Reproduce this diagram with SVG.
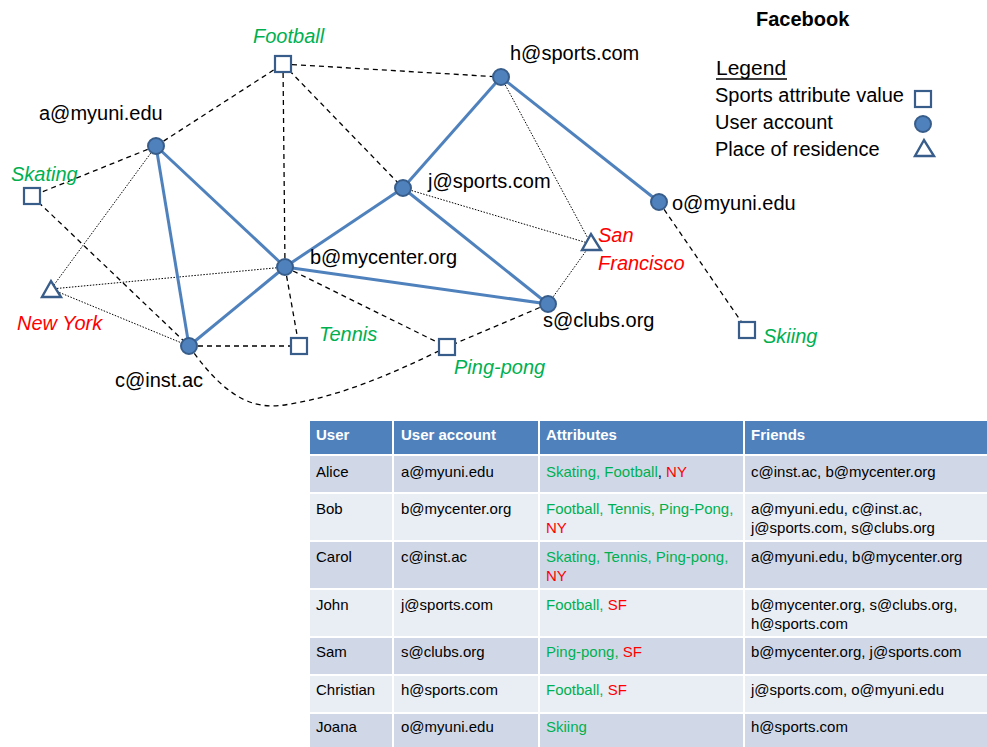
<svg xmlns="http://www.w3.org/2000/svg" width="987" height="747" viewBox="0 0 987 747">
<style>
text{font-family:"Liberation Sans",Arial,sans-serif;}
.lbl{font-size:20px;fill:#000;}
.attr{font-size:20px;font-style:italic;fill:#00B050;}
.place{font-size:20px;font-style:italic;fill:#FF0000;}
.user{fill:#4F81BD;stroke:#385D8A;stroke-width:2;}
.sq{fill:#fff;stroke:#385D8A;stroke-width:2.2;}
.tri{fill:#fff;stroke:#385D8A;stroke-width:2.4;stroke-linejoin:miter;}
.friend{stroke:#4F81BD;stroke-width:3;fill:none;}
.dash{stroke:#000;stroke-width:1.3;stroke-dasharray:5,4;fill:none;}
.dot{stroke:#000;stroke-width:1;stroke-dasharray:1.5,1.5;fill:none;}
.th{font-size:15px;font-weight:bold;fill:#fff;}
.td{font-size:15px;fill:#000;}
.g{fill:#00B050;}
.r{fill:#FF0000;}
.hd{fill:#4F81BD;stroke:#fff;stroke-width:2;}
.ro{fill:#D0D8E8;stroke:#fff;stroke-width:2;}
.re{fill:#E9EDF4;stroke:#fff;stroke-width:2;}
</style>

<g id="connectors">
  <!-- dotted: place of residence -->
  <line class="dot" x1="156" y1="146" x2="51" y2="289"/>
  <line class="dot" x1="51" y1="289" x2="285" y2="267"/>
  <line class="dot" x1="51" y1="289" x2="189" y2="346"/>
  <line class="dot" x1="403" y1="188" x2="591" y2="244"/>
  <line class="dot" x1="501" y1="77" x2="591" y2="244"/>
  <line class="dot" x1="548" y1="304" x2="591" y2="244"/>
  <!-- dashed: sports attributes -->
  <line class="dash" x1="156" y1="146" x2="283" y2="64"/>
  <line class="dash" x1="156" y1="146" x2="32" y2="196"/>
  <line class="dash" x1="283" y1="64" x2="501" y2="77"/>
  <line class="dash" x1="283" y1="64" x2="285" y2="267"/>
  <line class="dash" x1="283" y1="64" x2="403" y2="188"/>
  <line class="dash" x1="32" y1="196" x2="189" y2="346"/>
  <line class="dash" x1="285" y1="267" x2="299" y2="346"/>
  <line class="dash" x1="189" y1="346" x2="299" y2="346"/>
  <line class="dash" x1="285" y1="267" x2="447" y2="347"/>
  <line class="dash" x1="548" y1="304" x2="447" y2="347"/>
  <path class="dash" d="M189,346 C230,405 260,410 290,404 C340,396 390,375 447,347"/>
  <line class="dash" x1="659" y1="202" x2="747" y2="330"/>
  <!-- solid: friendships -->
  <line class="friend" x1="156" y1="146" x2="285" y2="267"/>
  <line class="friend" x1="156" y1="146" x2="189" y2="346"/>
  <line class="friend" x1="285" y1="267" x2="189" y2="346"/>
  <line class="friend" x1="285" y1="267" x2="403" y2="188"/>
  <line class="friend" x1="285" y1="267" x2="548" y2="304"/>
  <line class="friend" x1="403" y1="188" x2="501" y2="77"/>
  <line class="friend" x1="403" y1="188" x2="548" y2="304"/>
  <line class="friend" x1="501" y1="77" x2="659" y2="202"/>
</g>

<g id="football"><rect class="sq" x="275" y="56" width="16" height="16"/><text class="attr" x="253" y="43">Football</text></g>
<g id="skating"><rect class="sq" x="24" y="188" width="16" height="16"/><text class="attr" x="11" y="181">Skating</text></g>
<g id="tennis"><rect class="sq" x="291" y="338" width="16" height="16"/><text class="attr" x="319" y="341">Tennis</text></g>
<g id="pingpong"><rect class="sq" x="439" y="339" width="16" height="16"/><text class="attr" x="454" y="374">Ping-pong</text></g>
<g id="skiing"><rect class="sq" x="739" y="322" width="16" height="16"/><text class="attr" x="763" y="343">Skiing</text></g>

<g id="newyork"><polygon class="tri" points="51,281 42,297 61,297"/><text class="place" x="17" y="330">New York</text></g>
<g id="sanfrancisco"><polygon class="tri" points="591,234 582,250 601,250"/><text class="place" x="598" y="242">San</text><text class="place" x="598" y="270">Francisco</text></g>

<g id="a"><circle class="user" cx="156" cy="146" r="8"/><text class="lbl" x="39" y="120">a@myuni.edu</text></g>
<g id="h"><circle class="user" cx="501" cy="77" r="8"/><text class="lbl" x="510" y="60">h@sports.com</text></g>
<g id="j"><circle class="user" cx="403" cy="188" r="8"/><text class="lbl" x="428" y="188">j@sports.com</text></g>
<g id="b"><circle class="user" cx="285" cy="267" r="8"/><text class="lbl" x="310" y="264">b@mycenter.org</text></g>
<g id="c"><circle class="user" cx="189" cy="346" r="8"/><text class="lbl" x="115" y="387">c@inst.ac</text></g>
<g id="s"><circle class="user" cx="548" cy="304" r="8"/><text class="lbl" x="543" y="327">s@clubs.org</text></g>
<g id="o"><circle class="user" cx="659" cy="202" r="8"/><text class="lbl" x="672" y="210">o@myuni.edu</text></g>

<g id="title"><text x="756" y="26" style="font-size:20px;font-weight:bold;fill:#000">Facebook</text></g>

<g id="legend">
  <text x="716" y="75" style="font-size:21px;fill:#000">Legend</text>
  <line x1="716" y1="79" x2="787" y2="79" stroke="#000" stroke-width="1.3"/>
  <text class="lbl" x="715" y="102">Sports attribute value</text>
  <rect class="sq" x="915" y="91" width="16" height="16"/>
  <text class="lbl" x="715" y="129">User account</text>
  <circle class="user" cx="923" cy="124" r="8"/>
  <text class="lbl" x="715" y="156">Place of residence</text>
  <polygon class="tri" points="924,140 915,156 934,156"/>
</g>

<g id="table">
  <rect class="hd" x="309" y="420" width="84" height="35"/>
  <rect class="hd" x="393" y="420" width="146" height="35"/>
  <rect class="hd" x="539" y="420" width="205" height="35"/>
  <rect class="hd" x="744" y="420" width="250" height="35"/>
  <text class="th" x="316" y="440">User</text>
  <text class="th" x="401" y="440">User account</text>
  <text class="th" x="546" y="440">Attributes</text>
  <text class="th" x="751" y="440">Friends</text>

  <rect class="ro" x="309" y="455" width="84" height="38"/><rect class="ro" x="393" y="455" width="146" height="38"/><rect class="ro" x="539" y="455" width="205" height="38"/><rect class="ro" x="744" y="455" width="250" height="38"/>
  <rect class="re" x="309" y="493" width="84" height="48"/><rect class="re" x="393" y="493" width="146" height="48"/><rect class="re" x="539" y="493" width="205" height="48"/><rect class="re" x="744" y="493" width="250" height="48"/>
  <rect class="ro" x="309" y="541" width="84" height="48"/><rect class="ro" x="393" y="541" width="146" height="48"/><rect class="ro" x="539" y="541" width="205" height="48"/><rect class="ro" x="744" y="541" width="250" height="48"/>
  <rect class="re" x="309" y="589" width="84" height="48"/><rect class="re" x="393" y="589" width="146" height="48"/><rect class="re" x="539" y="589" width="205" height="48"/><rect class="re" x="744" y="589" width="250" height="48"/>
  <rect class="ro" x="309" y="637" width="84" height="38"/><rect class="ro" x="393" y="637" width="146" height="38"/><rect class="ro" x="539" y="637" width="205" height="38"/><rect class="ro" x="744" y="637" width="250" height="38"/>
  <rect class="re" x="309" y="675" width="84" height="38"/><rect class="re" x="393" y="675" width="146" height="38"/><rect class="re" x="539" y="675" width="205" height="38"/><rect class="re" x="744" y="675" width="250" height="38"/>
  <rect class="ro" x="309" y="713" width="84" height="40"/><rect class="ro" x="393" y="713" width="146" height="40"/><rect class="ro" x="539" y="713" width="205" height="40"/><rect class="ro" x="744" y="713" width="250" height="40"/>

  <text class="td" x="316" y="477">Alice</text>
  <text class="td" x="401" y="477">a@myuni.edu</text>
  <text class="td" x="546" y="477"><tspan class="g">Skating, Football</tspan>, <tspan class="r">NY</tspan></text>
  <text class="td" x="751" y="477">c@inst.ac, b@mycenter.org</text>

  <text class="td" x="316" y="514">Bob</text>
  <text class="td" x="401" y="514">b@mycenter.org</text>
  <text class="td g" x="546" y="514">Football, Tennis,  Ping-Pong,</text>
  <text class="td r" x="546" y="533">NY</text>
  <text class="td" x="751" y="514">a@myuni.edu, c@inst.ac,</text>
  <text class="td" x="751" y="533">j@sports.com, s@clubs.org</text>

  <text class="td" x="316" y="562">Carol</text>
  <text class="td" x="401" y="562">c@inst.ac</text>
  <text class="td g" x="546" y="562">Skating, Tennis, Ping-pong,</text>
  <text class="td r" x="546" y="581">NY</text>
  <text class="td" x="751" y="562">a@myuni.edu, b@mycenter.org</text>

  <text class="td" x="316" y="610">John</text>
  <text class="td" x="401" y="610">j@sports.com</text>
  <text class="td" x="546" y="610"><tspan class="g">Football, </tspan><tspan class="r">SF</tspan></text>
  <text class="td" x="751" y="610">b@mycenter.org, s@clubs.org,</text>
  <text class="td" x="751" y="629">h@sports.com</text>

  <text class="td" x="316" y="657">Sam</text>
  <text class="td" x="401" y="657">s@clubs.org</text>
  <text class="td" x="546" y="657"><tspan class="g">Ping-pong, </tspan><tspan class="r">SF</tspan></text>
  <text class="td" x="751" y="657">b@mycenter.org, j@sports.com</text>

  <text class="td" x="316" y="695">Christian</text>
  <text class="td" x="401" y="695">h@sports.com</text>
  <text class="td" x="546" y="695"><tspan class="g">Football, </tspan><tspan class="r">SF</tspan></text>
  <text class="td" x="751" y="695">j@sports.com, o@myuni.edu</text>

  <text class="td" x="316" y="732">Joana</text>
  <text class="td" x="401" y="732">o@myuni.edu</text>
  <text class="td g" x="546" y="732">Skiing</text>
  <text class="td" x="751" y="732">h@sports.com</text>
</g>
</svg>
